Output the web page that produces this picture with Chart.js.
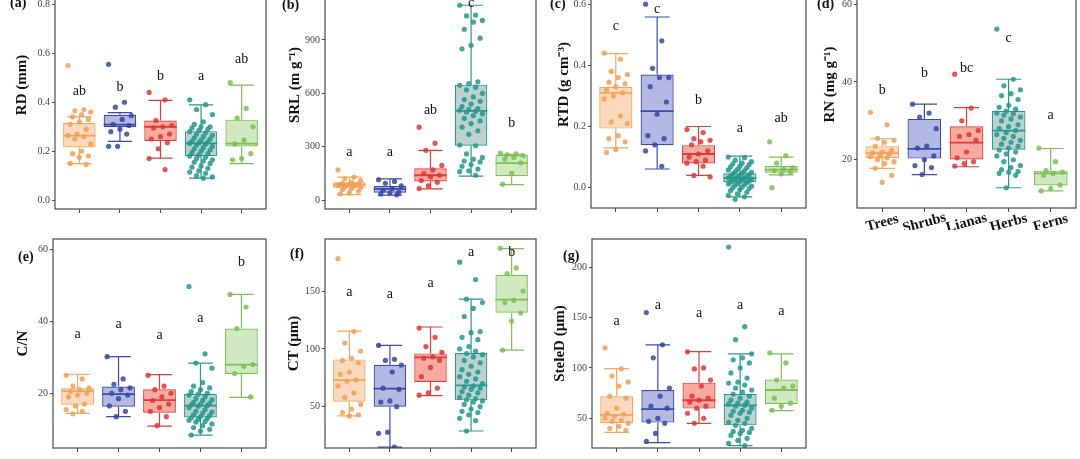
<!DOCTYPE html>
<html>
<head>
<meta charset="utf-8">
<script src="https://cdn.jsdelivr.net/npm/chart.js@4"></script>
<style>
    html, body { margin: 0; padding: 0; background: #fff; }
    body { position: relative; width: 1080px; height: 459px; overflow: hidden; }
    canvas { position: absolute; }
</style>
</head>
<body>
<canvas id="pa"></canvas>
<canvas id="pb"></canvas>
<canvas id="pc"></canvas>
<canvas id="pd"></canvas>
<canvas id="pe"></canvas>
<canvas id="pf"></canvas>
<canvas id="pg"></canvas>
<script>
const groups = ['Trees', 'Shrubs', 'Lianas', 'Herbs', 'Ferns'];

const lineColors = ['#F4A55E', '#3B4BA6', '#E23B3B', '#2E968C', '#7DBE56'];
const fillColors = ['rgba(250,185,135,0.55)', 'rgba(105,115,200,0.5)', 'rgba(245,115,95,0.6)', 'rgba(120,165,160,0.5)', 'rgba(170,215,140,0.55)'];
const pointColors = ['rgba(240,160,85,0.85)', 'rgba(55,70,160,0.85)', 'rgba(220,55,55,0.85)', 'rgba(35,150,140,0.85)', 'rgba(125,190,85,0.85)'];

// boxes: [lower whisker, Q1, median, Q3, upper whisker]
const rdBoxes = [[0.149, 0.215, 0.264, 0.315, 0.34], [0.24, 0.298, 0.309, 0.349, 0.358], [0.172, 0.242, 0.30, 0.325, 0.408], [0.09, 0.18, 0.232, 0.282, 0.389], [0.149, 0.219, 0.231, 0.329, 0.47]];
const rdPoints = [
    [0.55, 0.37, 0.365, 0.36, 0.35, 0.34, 0.33, 0.32, 0.31, 0.29, 0.27, 0.265, 0.26, 0.25, 0.23, 0.2, 0.19, 0.18, 0.175, 0.15, 0.145],
    [0.555, 0.40, 0.38, 0.345, 0.33, 0.31, 0.305, 0.29, 0.28, 0.27, 0.22, 0.22],
    [0.44, 0.41, 0.325, 0.305, 0.30, 0.295, 0.27, 0.26, 0.25, 0.235, 0.21, 0.17, 0.125],
    [0.41, 0.39, 0.37, 0.35, 0.32, 0.31, 0.30, 0.30, 0.295, 0.29, 0.285, 0.28, 0.275, 0.27, 0.265, 0.26, 0.255, 0.25, 0.245, 0.24, 0.238, 0.235, 0.232, 0.23, 0.225, 0.22, 0.215, 0.21, 0.205, 0.20, 0.195, 0.19, 0.185, 0.18, 0.175, 0.17, 0.165, 0.16, 0.155, 0.15, 0.14, 0.135, 0.13, 0.12, 0.115, 0.11, 0.10, 0.095, 0.09],
    [0.48, 0.375, 0.335, 0.30, 0.245, 0.23, 0.19, 0.17, 0.165]
];
const rdLetters = ['ab', 'b', 'b', 'a', 'ab'];
const rdLetterY = [0.443, 0.463, 0.507, 0.507, 0.577];
const rdTicks = [0, 0.2, 0.4, 0.6, 0.8];

const srlBoxes = [[31, 70, 87, 101, 129], [28, 42, 63, 79, 120], [63, 105, 140, 179, 280], [135, 306, 502, 649, 1095], [87, 135, 208, 253, 258]];
const srlPoints = [
    [170, 130, 120, 110, 100, 95, 92, 90, 88, 86, 85, 82, 80, 75, 70, 65, 60, 50, 40, 35],
    [115, 105, 95, 80, 65, 55, 45, 40, 35, 30],
    [410, 320, 280, 195, 170, 150, 140, 130, 110, 100, 80, 65],
    [1095, 1040, 1035, 1010, 1000, 960, 910, 870, 850, 665, 655, 645, 635, 620, 600, 580, 565, 555, 540, 525, 515, 510, 505, 500, 495, 485, 475, 460, 445, 430, 410, 390, 370, 310, 305, 260, 240, 230, 220, 215, 200, 190, 175, 165, 160, 140],
    [265, 260, 255, 250, 240, 230, 210, 150, 90]
];
const srlLetters = ['a', 'a', 'ab', 'c', 'b'];
const srlLetterY = [271, 271, 503, 1108, 433];
const srlTicks = [0, 300, 600, 900];

const rtdBoxes = [[0.13, 0.193, 0.31, 0.33, 0.438], [0.061, 0.139, 0.25, 0.37, 0.558], [0.04, 0.079, 0.11, 0.139, 0.2], [-0.03, 0.018, 0.031, 0.047, 0.103], [0.042, 0.049, 0.059, 0.071, 0.1]];
const rtdPoints = [
    [0.44, 0.42, 0.38, 0.37, 0.36, 0.345, 0.34, 0.33, 0.32, 0.31, 0.30, 0.29, 0.235, 0.215, 0.21, 0.17, 0.16, 0.15, 0.125, 0.115],
    [0.60, 0.48, 0.39, 0.36, 0.36, 0.33, 0.28, 0.24, 0.17, 0.16, 0.14, 0.12, 0.07],
    [0.19, 0.18, 0.16, 0.155, 0.15, 0.14, 0.12, 0.11, 0.10, 0.09, 0.085, 0.08, 0.07, 0.04, 0.035],
    [0.10, 0.098, 0.09, 0.085, 0.08, 0.078, 0.075, 0.07, 0.068, 0.065, 0.06, 0.058, 0.055, 0.052, 0.05, 0.048, 0.045, 0.043, 0.04, 0.038, 0.036, 0.034, 0.032, 0.031, 0.03, 0.028, 0.026, 0.024, 0.022, 0.02, 0.018, 0.016, 0.014, 0.012, 0.01, 0.008, 0.005, 0.002, 0.0, -0.003, -0.006, -0.01, -0.015, -0.02, -0.025, -0.03, -0.038],
    [0.15, 0.105, 0.08, 0.065, 0.06, 0.055, 0.05, 0.045, 0.0]
];
const rtdLetters = ['c', 'c', 'b', 'a', 'ab'];
const rtdLetterY = [0.528, 0.582, 0.286, 0.195, 0.227];
const rtdTicks = [0, 0.2, 0.4, 0.6];

const rnBoxes = [[17.8, 20.4, 21.7, 23.5, 25.4], [16.2, 20.3, 22.8, 30.5, 34.3], [18.2, 20.1, 24.4, 28.6, 33.4], [12.8, 22.6, 27.5, 32.6, 40.7], [12, 13.4, 16.5, 17.2, 22.9]];
const rnPoints = [
    [32.2, 29, 25.5, 25, 24.5, 23.5, 22.5, 22, 21.8, 21.5, 21, 20.8, 20.5, 20, 19.5, 19, 17.8, 16, 14.2],
    [34.3, 32, 31, 28, 23.5, 23, 21, 20, 18.5, 18, 16.2],
    [42, 33.3, 30, 27.5, 26.5, 26, 25, 22, 20.5, 19.5, 19, 18.4],
    [53.6, 40.7, 39, 38, 37, 36.5, 35.5, 34, 33.5, 33, 32.5, 32, 31.8, 31.5, 31, 30.5, 30, 29, 28.5, 28, 27.5, 27, 26.5, 26, 25.5, 25, 24.5, 24, 23.5, 23, 22.5, 22, 21.5, 21, 20, 19.5, 18.5, 18, 17.5, 17, 16.8, 16.5, 16, 12.8],
    [23, 19.5, 17.2, 16.8, 16.5, 16, 13.5, 12.6, 12]
];
const rnLetters = ['b', 'b', 'bc', 'c', 'a'];
const rnLetterY = [37.9, 42.2, 43.4, 51.1, 31.3];
const rnTicks = [20, 40, 60];

const cnBoxes = [[14.4, 16.8, 20.6, 21.4, 25.3], [13.5, 16.3, 19.8, 21.9, 30.2], [10.9, 14.6, 18.1, 21.1, 25.2], [8.4, 13.3, 16.6, 19.9, 28.4], [18.9, 25.4, 28, 38, 47.5]];
const cnPoints = [
    [25, 24, 22, 21.5, 21, 20.5, 20, 19.5, 19, 17, 16.5, 15.5, 15, 14.3],
    [30.2, 24, 22.5, 21.5, 21, 20, 19.5, 18.5, 16.5, 15, 13.5],
    [25, 22, 21, 20, 19, 18, 17, 16, 15, 13.5, 11],
    [49.7, 31, 28.4, 27, 23, 22, 21.5, 21, 20.5, 20, 19.8, 19.5, 19, 18.5, 18.2, 18, 17.5, 17.2, 17, 16.8, 16.6, 16.4, 16, 15.5, 15, 14.8, 14.5, 14, 13.8, 13.5, 13.2, 13, 12.8, 12.5, 12.2, 12, 11.5, 11, 10.5, 10, 9.5, 8.4],
    [47.5, 44, 38, 28, 27.5, 25.5, 19]
];
const cnLetters = ['a', 'a', 'a', 'a', 'b'];
const cnLetterY = [36.5, 39.2, 36.1, 40.8, 56.3];
const cnTicks = [20, 40, 60];

const ctBoxes = [[42, 54.3, 73, 90.9, 115.4], [15, 50, 65.6, 86.3, 103], [59.5, 71.3, 92.7, 96.1, 118.9], [29, 55.5, 68.4, 96.4, 143], [99, 131.3, 142.5, 164.1, 186.6]];
const ctPoints = [
    [178, 115, 105, 98, 92, 90, 88, 80, 78, 73, 72, 68, 62, 58, 52, 48, 45, 43, 42],
    [103, 91, 90, 86, 80, 66, 65, 55, 54, 50, 28, 27, 15],
    [118, 110, 102, 97, 93, 92, 90, 84, 76, 66, 62, 60],
    [175, 160, 143, 140, 135, 128, 115, 114, 110, 108, 102, 100, 98, 96, 95, 93, 90, 88, 85, 82, 80, 78, 76, 74, 72, 70, 68, 67, 66, 65, 63, 62, 60, 58, 57, 56, 55, 54, 52, 50, 48, 46, 45, 43, 40, 38, 29],
    [187, 170, 165, 150, 142, 140, 131, 124, 99]
];
const ctLetters = ['a', 'a', 'a', 'a', 'b'];
const ctLetterY = [148.8, 147.4, 156.6, 183.1, 183.1];
const ctTicks = [50, 100, 150];

const steleBoxes = [[36, 45, 53.3, 71.9, 99.3], [25.8, 45.7, 59, 78.1, 122.8], [45, 59.6, 67.9, 85.4, 116.2], [22.8, 43, 62.9, 74.2, 113.9], [57.6, 64.2, 78.1, 88.4, 113.9]];
const stelePoints = [
    [120, 99, 92, 86, 82, 72, 70, 60, 55, 54, 52, 50, 48, 47, 45, 42, 40, 38],
    [155, 123, 110, 80, 72, 62, 60, 50, 47, 45, 35, 27],
    [116, 100, 99, 88, 82, 72, 70, 68, 66, 62, 60, 55, 50, 45],
    [220, 141, 128, 114, 110, 108, 105, 100, 95, 90, 86, 85, 83, 80, 78, 76, 74, 72, 70, 68, 66, 65, 64, 63, 62, 60, 58, 57, 56, 55, 53, 50, 48, 46, 45, 43, 40, 38, 37, 36, 35, 33, 30, 28, 25, 23],
    [115, 105, 88, 82, 80, 70, 65, 62, 58]
];
const steleLetters = ['a', 'a', 'a', 'a', 'a'];
const steleLetterY = [146.7, 162.6, 154.3, 162.6, 156];
const steleTicks = [50, 100, 150, 200];

const panels = [
    { id: 'pa', tag: '(a)', title: 'RD (mm)', boxes: rdBoxes, points: rdPoints, letters: rdLetters, letterY: rdLetterY, ticks: rdTicks, decimals: 1,
      left: 0, top: -43, width: 270, height: 273, axisW: 55, padR: 2, padT: 0, axisH: 21, min: -0.036, max: 0.977, titleX: 22, tagX: 10, tagY: 46 },
    { id: 'pb', tag: '(b)', title: 'SRL (m g\u207B\u00B9)', boxes: srlBoxes, points: srlPoints, letters: srlLetters, letterY: srlLetterY, ticks: srlTicks, decimals: 0,
      left: 270, top: -43, width: 270, height: 273, axisW: 55, padR: 2, padT: 0, axisH: 21, min: -49.7, max: 1343.7, titleX: 25, tagX: 12, tagY: 48 },
    { id: 'pc', tag: '(c)', title: 'RTD (g cm\u207B\u00B3)', boxes: rtdBoxes, points: rtdPoints, letters: rtdLetters, letterY: rtdLetterY, ticks: rtdTicks, decimals: 1,
      left: 540, top: -43, width: 270, height: 273, axisW: 51, padR: 4, padT: 0, axisH: 22, min: -0.0665, max: 0.741, titleX: 24, tagX: 10, tagY: 47 },
    { id: 'pd', tag: '(d)', title: 'RN (mg g\u207B\u00B9)', boxes: rnBoxes, points: rnPoints, letters: rnLetters, letterY: rnLetterY, ticks: rnTicks, decimals: 0,
      left: 810, top: -43, width: 270, height: 273, axisW: 47, padR: 3, padT: 0, axisH: 22, min: 7.6, max: 71.1, titleX: 20, tagX: 7, tagY: 47, names: true },
    { id: 'pe', tag: '(e)', title: 'C/N', boxes: cnBoxes, points: cnPoints, letters: cnLetters, letterY: cnLetterY, ticks: cnTicks, decimals: 0,
      left: 0, top: 230, width: 270, height: 229, axisW: 53, padR: 2, padT: 9, axisH: 11, min: 4.8, max: 62.9, titleX: 23, tagX: 18, tagY: 27 },
    { id: 'pf', tag: '(f)', title: 'CT (\u00B5m)', boxes: ctBoxes, points: ctPoints, letters: ctLetters, letterY: ctLetterY, ticks: ctTicks, decimals: 0,
      left: 270, top: 230, width: 270, height: 229, axisW: 55, padR: 2, padT: 9, axisH: 11, min: 14.3, max: 195, titleX: 24, tagX: 20, tagY: 24 },
    { id: 'pg', tag: '(g)', title: 'SteleD (\u00B5m)', boxes: steleBoxes, points: stelePoints, letters: steleLetters, letterY: steleLetterY, ticks: steleTicks, decimals: 0,
      left: 540, top: 230, width: 270, height: 229, axisW: 52, padR: 2, padT: 9, axisH: 11, min: 20.5, max: 228, titleX: 20, tagX: 23, tagY: 26 }
];

const serif = "'Liberation Serif', 'Times New Roman', serif";
Chart.defaults.font.family = serif;

// spread points sideways a little, like ggplot's geom_jitter
function jitter(j) {
    return (((j * 7) % 11) / 10 - 0.5) * 0.56;
}

function boxPartsPlugin(panel) {
    return {
        id: 'boxParts_' + panel.id,
        afterDatasetDraw(chart, args) {
            if (args.index !== 0) return;
            const { ctx, scales: { x, y } } = chart;
            const cap = x.getPixelForValue(1.3) - x.getPixelForValue(1);
            const half = x.getPixelForValue(1.4) - x.getPixelForValue(1);
            ctx.save();
            panel.boxes.forEach((b, i) => {
                const cx = x.getPixelForValue(i + 1);
                ctx.strokeStyle = lineColors[i];
                ctx.lineWidth = 1.2;
                ctx.beginPath();
                ctx.moveTo(cx, y.getPixelForValue(b[0]));
                ctx.lineTo(cx, y.getPixelForValue(b[1]));
                ctx.moveTo(cx, y.getPixelForValue(b[3]));
                ctx.lineTo(cx, y.getPixelForValue(b[4]));
                ctx.moveTo(cx - cap, y.getPixelForValue(b[0]));
                ctx.lineTo(cx + cap, y.getPixelForValue(b[0]));
                ctx.moveTo(cx - cap, y.getPixelForValue(b[4]));
                ctx.lineTo(cx + cap, y.getPixelForValue(b[4]));
                ctx.stroke();
                ctx.lineWidth = 1.8;
                ctx.beginPath();
                ctx.moveTo(cx - half, y.getPixelForValue(b[2]));
                ctx.lineTo(cx + half, y.getPixelForValue(b[2]));
                ctx.stroke();
            });
            ctx.restore();
        },
        afterDraw(chart) {
            const { ctx, chartArea: a, scales: { x, y } } = chart;
            ctx.save();
            ctx.strokeStyle = '#4a4a4a';
            ctx.lineWidth = 1.2;
            ctx.strokeRect(a.left, a.top, a.right - a.left, a.bottom - a.top);

            ctx.fillStyle = '#111';
            ctx.font = '14px ' + serif;
            ctx.textAlign = 'center';
            ctx.textBaseline = 'middle';
            panel.letters.forEach((t, i) => {
                ctx.fillText(t, x.getPixelForValue(i + 1), y.getPixelForValue(panel.letterY[i]));
            });

            ctx.font = 'bold 14px ' + serif;
            ctx.textAlign = 'left';
            ctx.fillText(panel.tag, panel.tagX, panel.tagY);

            if (panel.names) {
                ctx.font = 'bold 14.5px ' + serif;
                ctx.textAlign = 'center';
                groups.forEach((g, i) => {
                    ctx.save();
                    ctx.translate(x.getPixelForValue(i + 1), a.bottom + 15);
                    ctx.rotate(-15 * Math.PI / 180);
                    ctx.fillText(g, 0, 0);
                    ctx.restore();
                });
            }
            ctx.restore();
        }
    };
}

function makePanel(panel) {
    const canvas = document.getElementById(panel.id);
    canvas.width = panel.width;
    canvas.height = panel.height;
    canvas.style.left = panel.left + 'px';
    canvas.style.top = panel.top + 'px';

    const datasets = [{
        type: 'bar',
        data: panel.boxes.map((b, i) => ({ x: i + 1, y: [b[1], b[3]] })),
        backgroundColor: fillColors,
        borderColor: lineColors,
        borderWidth: 1.2,
        borderSkipped: false,
        barPercentage: 0.8,
        categoryPercentage: 1,
        order: 2
    }];
    panel.points.forEach((vals, i) => {
        datasets.push({
            type: 'scatter',
            data: vals.map((v, j) => ({ x: i + 1 + jitter(j), y: v })),
            backgroundColor: pointColors[i],
            borderWidth: 0,
            pointRadius: 2.6,
            order: 1
        });
    });

    new Chart(canvas, {
        type: 'scatter',
        data: { datasets },
        options: {
            responsive: false,
            animation: false,
            events: [],
            layout: { padding: { left: 0, right: panel.padR, top: panel.padT, bottom: 0 } },
            plugins: { legend: { display: false }, tooltip: { enabled: false } },
            scales: {
                x: {
                    type: 'linear',
                    min: 0.4,
                    max: 5.6,
                    offset: false,
                    afterBuildTicks: scale => { scale.ticks = groups.map((g, i) => ({ value: i + 1 })); },
                    afterFit: scale => {
                        scale.height = panel.axisH;
                        scale.paddingLeft = 0;
                        scale.paddingRight = 0;
                    },
                    ticks: { display: false },
                    grid: { display: true, offset: false, drawOnChartArea: false, drawTicks: true, tickLength: 4, color: '#4a4a4a', lineWidth: 1 },
                    border: { display: false }
                },
                y: {
                    type: 'linear',
                    min: panel.min,
                    max: panel.max,
                    afterBuildTicks: scale => { scale.ticks = panel.ticks.map(v => ({ value: v })); },
                    afterFit: scale => {
                        scale.width = panel.axisW;
                        scale.paddingTop = 0;
                        scale.paddingBottom = 0;
                    },
                    ticks: {
                        color: '#444',
                        font: { size: 10, family: serif },
                        padding: 2,
                        callback: v => Number(v).toFixed(panel.decimals)
                    },
                    grid: { display: true, drawOnChartArea: false, drawTicks: true, tickLength: 3, color: '#4a4a4a', lineWidth: 1 },
                    border: { display: false },
                    title: {
                        display: true,
                        text: panel.title,
                        color: '#111',
                        font: { size: 15, weight: 'bold', family: serif },
                        padding: { top: panel.titleX - 9, bottom: 0 }
                    }
                }
            }
        },
        plugins: [boxPartsPlugin(panel)]
    });
}

panels.forEach(makePanel);
</script>
</body>
</html>
